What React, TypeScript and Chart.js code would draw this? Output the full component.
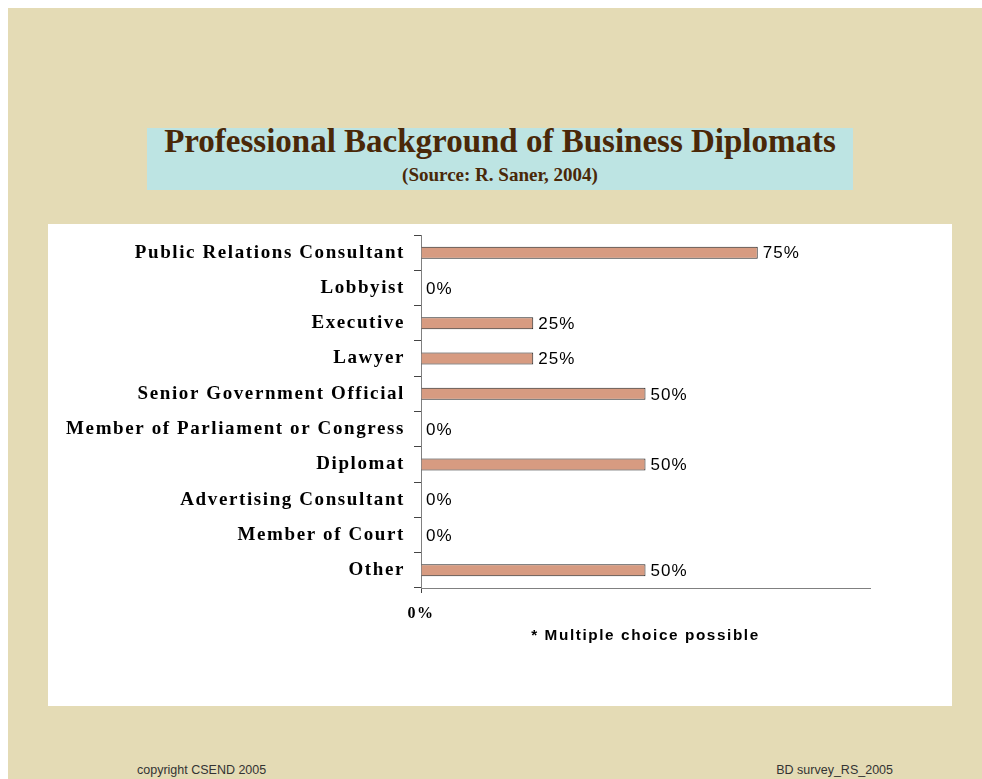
import React, { useEffect, useRef } from "react";
import { Chart, registerables } from "chart.js";

Chart.register(...registerables);

const categories: string[] = [
  "Public Relations Consultant",
  "Lobbyist",
  "Executive",
  "Lawyer",
  "Senior Government Official",
  "Member of Parliament or Congress",
  "Diplomat",
  "Advertising Consultant",
  "Member of Court",
  "Other",
];
const shares: number[] = [75, 0, 25, 25, 50, 0, 50, 0, 0, 50];
const xTickValues: number[] = [0, 25, 50, 75, 100];
const xTickLabels: string[] = ["0%", "", "", "", ""];
const titleText = "Professional Background of Business Diplomats";
const subtitleText = "(Source: R. Saner, 2004)";
const noteText = "* Multiple choice possible";
const footerLeft = "copyright CSEND 2005";
const footerRight = "BD survey_RS_2005";

const spacingPlugin = {
  id: "spacing",
  beforeDraw(chart: any) {
    chart.ctx.letterSpacing = "1.6px";
  },
  afterDatasetsDraw(chart: any) {
    const ctx = chart.ctx;
    const meta = chart.getDatasetMeta(0);
    ctx.save();
    ctx.letterSpacing = "1px";
    ctx.font = "17px 'Liberation Sans', Arial, sans-serif";
    ctx.fillStyle = "#000";
    ctx.textAlign = "left";
    ctx.textBaseline = "middle";
    meta.data.forEach((bar: any, i: number) => {
      ctx.fillText(shares[i] + "%", bar.x + 5, bar.y + 1);
    });
    ctx.restore();
  },
};

export default function App() {
  const ref = useRef<HTMLCanvasElement | null>(null);
  useEffect(() => {
    const el = ref.current;
    if (!el) return;
    const chart = new Chart(el, {
      type: "bar",
      data: {
        labels: categories,
        datasets: [
          {
            data: shares,
            backgroundColor: "#d79b81",
            borderColor: "#222",
            borderWidth: 1,
            borderSkipped: "start",
            barThickness: 12,
            inflateAmount: 0,
          },
        ],
      },
      options: {
        indexAxis: "y",
        animation: false,
        responsive: false,
        devicePixelRatio: 1,
        layout: { padding: { top: 11, right: 82, bottom: 0, left: 0 } },
        plugins: {
          legend: { display: false },
          tooltip: { enabled: false },
          title: { display: false },
        },
        scales: {
          x: {
            min: 0,
            max: 100,
            afterBuildTicks(scale: any) {
              scale.ticks = xTickValues.map((v) => ({ value: v }));
            },
            afterFit(scale: any) {
              scale.height = 118;
              scale.paddingLeft = 0;
              scale.paddingRight = 0;
            },
            ticks: {
              autoSkip: false,
              maxRotation: 0,
              padding: 11,
              color: "#000",
              font: { family: "'Liberation Serif', 'Times New Roman', serif", size: 16, weight: "bold" },
              callback: (_v: any, i: number) => xTickLabels[i],
            },
            grid: {
              drawOnChartArea: false,
              tickLength: 5,
              color: (c: any) => (c.tick && c.tick.value === 0 ? "#444" : "rgba(0,0,0,0)"),
            },
            border: { color: "#808080", width: 1 },
            title: {
              display: true,
              text: noteText,
              color: "#000",
              font: { family: "'Liberation Sans', Arial, sans-serif", size: 15.3, weight: "bold" },
              padding: { top: 0, bottom: 61 },
            },
          },
          y: {
            afterFit(scale: any) {
              scale.width = 373;
              scale.paddingTop = 0;
              scale.paddingBottom = 0;
            },
            ticks: {
              padding: 9,
              color: "#000",
              font: { family: "'Liberation Serif', 'Times New Roman', serif", size: 19, weight: "bold" },
            },
            grid: {
              drawOnChartArea: false,
              offset: true,
              tickLength: 7,
              color: "#444",
            },
            border: { color: "#808080", width: 1 },
          },
        },
      },
      plugins: [spacingPlugin],
    } as any);
    return () => chart.destroy();
  }, []);

  return (
    <div
      style={{
        position: "fixed",
        left: 8,
        top: 8,
        right: 0,
        bottom: 0,
        background: "#e4dbb5",
        overflow: "hidden",
      }}
    >
      <div
        style={{
          position: "absolute",
          left: 139,
          top: 120,
          width: 706,
          height: 62,
          background: "#bde4e3",
          color: "#4a2808",
          fontFamily: "'Liberation Serif', 'Times New Roman', serif",
          fontWeight: "bold",
          textAlign: "center",
        }}
      >
        <div style={{ fontSize: 33, lineHeight: "33px", marginTop: -3 }}>{titleText}</div>
        <div style={{ fontSize: 19, lineHeight: "19px", marginTop: 7 }}>{subtitleText}</div>
      </div>
      <div
        style={{
          position: "absolute",
          left: 40,
          top: 216,
          width: 904,
          height: 482,
          background: "#fff",
        }}
      >
        <canvas ref={ref} width={904} height={482} style={{ display: "block", width: 904, height: 482 }} />
      </div>
      <div
        style={{
          position: "absolute",
          left: 129,
          top: 755,
          lineHeight: "15px",
          fontFamily: "'Liberation Sans', Arial, sans-serif",
          fontSize: 12.5,
          color: "#333",
        }}
      >
        {footerLeft}
      </div>
      <div
        style={{
          position: "absolute",
          right: 89,
          top: 755,
          lineHeight: "15px",
          fontFamily: "'Liberation Sans', Arial, sans-serif",
          fontSize: 12.5,
          color: "#333",
        }}
      >
        {footerRight}
      </div>
    </div>
  );
}
